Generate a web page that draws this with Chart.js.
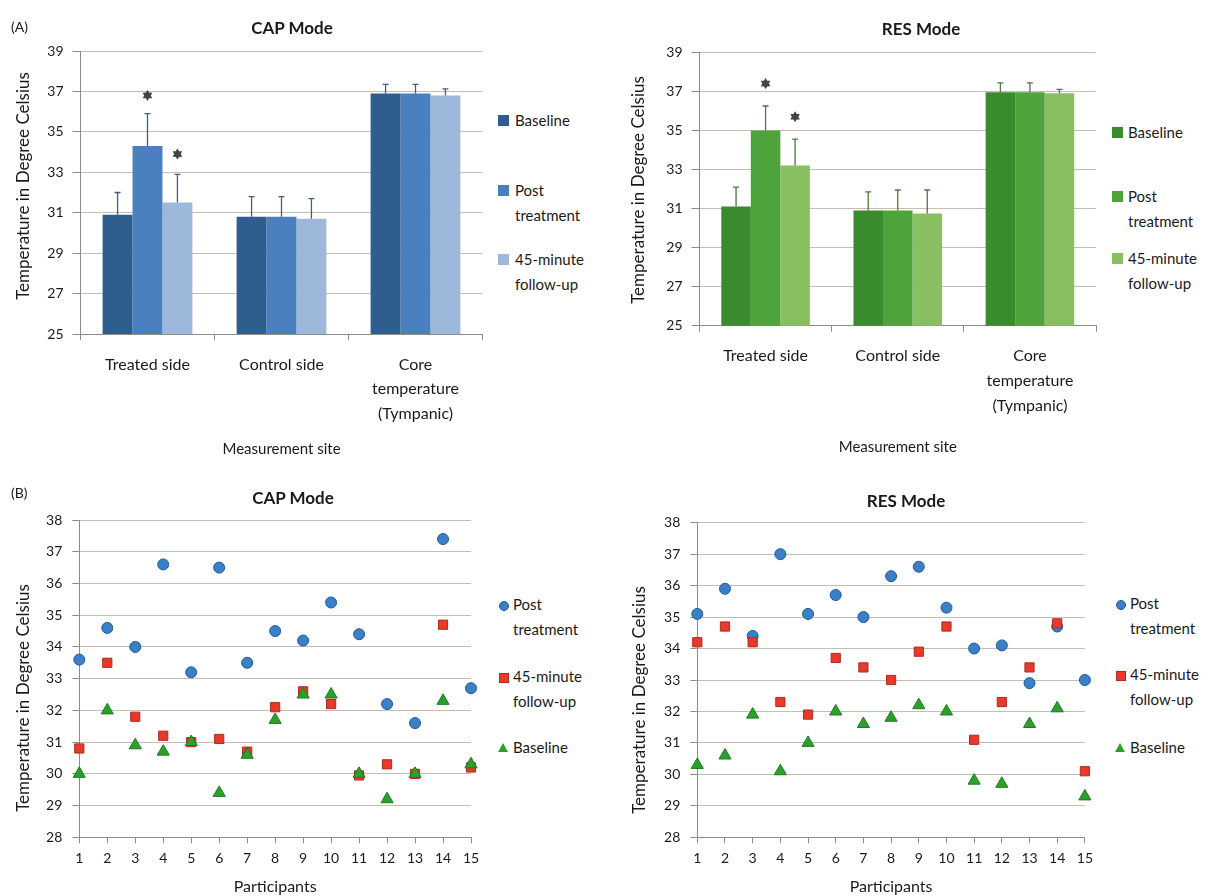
<!DOCTYPE html>
<html>
<head>
<meta charset="utf-8">
<script src="https://cdn.jsdelivr.net/npm/chart.js@4.4.1/dist/chart.umd.min.js"></script>
<style>
  html, body { margin: 0; padding: 0; background: #fff; }
  #wrap { position: relative; width: 1219px; height: 896px; background: #fff; font-family: Lato, "Open Sans", sans-serif; color: #1a1a1a; overflow: hidden; }
  canvas { position: absolute; }
  .t { position: absolute; white-space: nowrap; line-height: 1; }
  .title { font-weight: bold; font-size: 17px; transform: translate(-50%, -50%); }
  .tag { font-size: 14px; transform: translateY(-50%); }
  .yt { position: absolute; white-space: nowrap; line-height: 1; font-size: 17px; transform: translate(-50%, -50%) rotate(-90deg); }
  .lg { position: absolute; font-size: 15px; line-height: 25px; white-space: nowrap; color: #1a1a1a; }
  .sw { position: absolute; width: 11px; height: 11px; }
  .mk { position: absolute; }
</style>
</head>
<body>
<div id="wrap">
  <canvas id="capBar" width="490" height="470" style="left:0;top:0"></canvas>
  <canvas id="resBar" width="490" height="470" style="left:610px;top:0"></canvas>
  <canvas id="capSc" width="490" height="426" style="left:0;top:470px"></canvas>
  <canvas id="resSc" width="490" height="426" style="left:610px;top:470px"></canvas>

  <div class="t tag" style="left:11px;top:27px">(A)</div>
  <div class="t title" style="left:292px;top:27px">CAP Mode</div>
  <div class="t title" style="left:921px;top:28px">RES Mode</div>
  <div class="t tag" style="left:11px;top:493px">(B)</div>
  <div class="t title" style="left:293px;top:497px">CAP Mode</div>
  <div class="t title" style="left:906px;top:500px">RES Mode</div>

  <div class="yt" style="left:22px;top:186px">Temperature in Degree Celsius</div>
  <div class="yt" style="left:637px;top:190px">Temperature in Degree Celsius</div>
  <div class="yt" style="left:22px;top:698px">Temperature in Degree Celsius</div>
  <div class="yt" style="left:638px;top:700px">Temperature in Degree Celsius</div>

  <!-- legends A -->
  <div class="sw" style="left:498px;top:115px;background:#2f5d8e"></div>
  <div class="lg" style="left:515px;top:108px">Baseline</div>
  <div class="sw" style="left:498px;top:185px;background:#4a80bf"></div>
  <div class="lg" style="left:515px;top:178px">Post<br>treatment</div>
  <div class="sw" style="left:498px;top:254px;background:#9db8da"></div>
  <div class="lg" style="left:515px;top:247px">45-minute<br>follow-up</div>

  <div class="sw" style="left:1112px;top:127px;background:#3a8a2e"></div>
  <div class="lg" style="left:1128px;top:120px">Baseline</div>
  <div class="sw" style="left:1112px;top:191px;background:#4ea43a"></div>
  <div class="lg" style="left:1128px;top:184px">Post<br>treatment</div>
  <div class="sw" style="left:1112px;top:253px;background:#88c061"></div>
  <div class="lg" style="left:1128px;top:246px">45-minute<br>follow-up</div>

  <!-- legends B -->
  <div class="mk" style="left:499px;top:601px;width:8px;height:8px;border-radius:50%;background:#3a7fc8;border:1px solid #1f5a9a"></div>
  <div class="lg" style="left:513px;top:592px">Post<br>treatment</div>
  <div class="mk" style="left:499px;top:673px;width:8px;height:8px;background:#e8392a;border:1px solid #b02a1e"></div>
  <div class="lg" style="left:513px;top:664px">45-minute<br>follow-up</div>
  <div class="mk" style="left:498px;top:743px;width:0;height:0;border-left:5px solid transparent;border-right:5px solid transparent;border-bottom:9px solid #2ca02c"></div>
  <div class="lg" style="left:513px;top:735px">Baseline</div>

  <div class="mk" style="left:1116px;top:600px;width:8px;height:8px;border-radius:50%;background:#3a7fc8;border:1px solid #1f5a9a"></div>
  <div class="lg" style="left:1130px;top:591px">Post<br>treatment</div>
  <div class="mk" style="left:1116px;top:671px;width:8px;height:8px;background:#e8392a;border:1px solid #b02a1e"></div>
  <div class="lg" style="left:1130px;top:662px">45-minute<br>follow-up</div>
  <div class="mk" style="left:1115px;top:743px;width:0;height:0;border-left:5px solid transparent;border-right:5px solid transparent;border-bottom:9px solid #2ca02c"></div>
  <div class="lg" style="left:1130px;top:735px">Baseline</div>
</div>

<script>
// ---------- data: panel A (bar charts) ----------
const siteCategories = ['Treated side', 'Control side', ['Core', 'temperature', '(Tympanic)']];
const barTicks = [25, 27, 29, 31, 33, 35, 37, 39];

const capBaseline = [30.9, 30.8, 36.9];
const capPost = [34.3, 30.8, 36.9];
const capFollow = [31.5, 30.7, 36.8];
const capBaselineErr = [1.1, 1.0, 0.45];
const capPostErr = [1.6, 1.0, 0.45];
const capFollowErr = [1.4, 1.0, 0.33];
const capPostStar = [36.8, null, null];
const capFollowStar = [33.9, null, null];

const resBaseline = [31.1, 30.9, 36.95];
const resPost = [35.0, 30.9, 36.95];
const resFollow = [33.2, 30.75, 36.9];
const resBaselineErr = [1.0, 0.95, 0.48];
const resPostErr = [1.25, 1.05, 0.48];
const resFollowErr = [1.35, 1.2, 0.2];
const resPostStar = [37.4, null, null];
const resFollowStar = [35.7, null, null];

// ---------- data: panel B (scatter) ----------
const participants = [1, 2, 3, 4, 5, 6, 7, 8, 9, 10, 11, 12, 13, 14, 15];
const scatterTicks = [28, 29, 30, 31, 32, 33, 34, 35, 36, 37, 38];

const capScPost = [33.6, 34.6, 34.0, 36.6, 33.2, 36.5, 33.5, 34.5, 34.2, 35.4, 34.4, 32.2, 31.6, 37.4, 32.7];
const capScFollow = [30.8, 33.5, 31.8, 31.2, 31.0, 31.1, 30.7, 32.1, 32.6, 32.2, 29.95, 30.3, 30.0, 34.7, 30.2];
const capScBaseline = [30.0, 32.0, 30.9, 30.7, 31.0, 29.4, 30.6, 31.7, 32.5, 32.5, 30.0, 29.2, 30.0, 32.3, 30.3];

const resScPost = [35.1, 35.9, 34.4, 37.0, 35.1, 35.7, 35.0, 36.3, 36.6, 35.3, 34.0, 34.1, 32.9, 34.7, 33.0];
const resScFollow = [34.2, 34.7, 34.2, 32.3, 31.9, 33.7, 33.4, 33.0, 33.9, 34.7, 31.1, 32.3, 33.4, 34.8, 30.1];
const resScBaseline = [30.3, 30.6, 31.9, 30.1, 31.0, 32.0, 31.6, 31.8, 32.2, 32.0, 29.8, 29.7, 31.6, 32.1, 29.3];

// ---------- helpers ----------
const FONT = 'Lato, "Open Sans", sans-serif';
const GRID = '#c6beb5';
const AXIS = '#8c8c8c';
const TXT = '#1a1a1a';

function drawStar(ctx, x, y, r) {
  ctx.beginPath();
  for (let i = 0; i < 12; i++) {
    const a = -Math.PI / 2 + i * Math.PI / 6;
    const rr = i % 2 === 0 ? r : r * 0.6;
    const px = x + rr * Math.cos(a), py = y + rr * Math.sin(a);
    if (i === 0) ctx.moveTo(px, py); else ctx.lineTo(px, py);
  }
  ctx.closePath();
  ctx.fill();
}

const errorBarPlugin = {
  id: 'errorBars',
  afterDatasetsDraw(chart) {
    const ctx = chart.ctx, ys = chart.scales.y;
    ctx.save();
    chart.data.datasets.forEach((ds, i) => {
      const meta = chart.getDatasetMeta(i);
      meta.data.forEach((bar, j) => {
        if (ds.errors && ds.errors[j] != null) {
          const top = ys.getPixelForValue(ds.data[j] + ds.errors[j]);
          ctx.strokeStyle = ds.errColor;
          ctx.lineWidth = 1.3;
          ctx.beginPath();
          ctx.moveTo(bar.x, bar.y);
          ctx.lineTo(bar.x, top);
          ctx.moveTo(bar.x - 3, top);
          ctx.lineTo(bar.x + 3, top);
          ctx.stroke();
        }
        if (ds.stars && ds.stars[j] != null) {
          ctx.fillStyle = '#444';
          drawStar(ctx, bar.x, ys.getPixelForValue(ds.stars[j]), 5.5);
        }
      });
    });
    ctx.restore();
  }
};

function barChart(id, series, colors, errColor, geom) {
  const labels = ['Baseline', 'Post treatment', '45-minute follow-up'];
  return new Chart(document.getElementById(id), {
    type: 'bar',
    data: {
      labels: siteCategories,
      datasets: series.map((s, k) => ({
        label: labels[k],
        data: s.values,
        errors: s.errors,
        stars: s.stars,
        errColor: errColor,
        backgroundColor: colors[k],
        borderWidth: 0,
        barPercentage: 1.0,
        categoryPercentage: 0.67
      }))
    },
    options: {
      responsive: false,
      animation: false,
      layout: { padding: { left: 0, top: geom.top, right: geom.right, bottom: 0 } },
      plugins: { legend: { display: false }, tooltip: { enabled: false } },
      scales: {
        x: {
          afterFit(s) { s.height = geom.xh; },
          grid: { offset: true, drawOnChartArea: false, drawTicks: true, tickLength: 6, color: AXIS },
          border: { color: AXIS, width: 1 },
          ticks: { color: TXT, font: { family: FONT, size: 16, lineHeight: 1.55 }, padding: geom.xpad, maxRotation: 0, autoSkip: false },
          title: { display: true, text: 'Measurement site', color: TXT, font: { family: FONT, size: 15 }, padding: { top: 0, bottom: geom.xtb } }
        },
        y: {
          min: 25, max: 39,
          afterFit(s) { s.width = geom.yw; },
          afterBuildTicks(s) { s.ticks = barTicks.map(v => ({ value: v })); },
          grid: { color: GRID, tickLength: 8, tickColor: AXIS },
          border: { color: AXIS, width: 1 },
          ticks: { color: TXT, font: { family: FONT, size: 14 }, padding: 9 },
          title: { display: false }
        }
      }
    },
    plugins: [errorBarPlugin]
  });
}

barChart('capBar', [
  { values: capBaseline, errors: capBaselineErr, stars: null },
  { values: capPost, errors: capPostErr, stars: capPostStar },
  { values: capFollow, errors: capFollowErr, stars: capFollowStar }
], ['#2f5d8e', '#4a80bf', '#9db8da'], '#3f5f86',
  { top: 51, right: 7.5, xh: 136, yw: 80.5, xpad: 12, xtb: 12 });

barChart('resBar', [
  { values: resBaseline, errors: resBaselineErr, stars: null },
  { values: resPost, errors: resPostErr, stars: resPostStar },
  { values: resFollow, errors: resFollowErr, stars: resFollowStar }
], ['#3a8a2e', '#4ea43a', '#88c061'], '#4b7a3e',
  { top: 52.3, right: 4, xh: 144.3, yw: 89.5, xpad: 12, xtb: 14 });

function scatterChart(id, post, follow, base, geom) {
  const pts = arr => participants.map((p, i) => ({ x: p, y: arr[i] }));
  return new Chart(document.getElementById(id), {
    type: 'scatter',
    data: {
      datasets: [
        { label: 'Post treatment', data: pts(post), pointStyle: 'circle', pointRadius: 5.5, backgroundColor: '#3a7fc8', borderColor: '#1f5a9a', borderWidth: 1, order: 3, clip: false },
        { label: '45-minute follow-up', data: pts(follow), pointStyle: 'rect', pointRadius: 6.5, backgroundColor: '#e8392a', borderColor: '#b02a1e', borderWidth: 1, order: 2, clip: false },
        { label: 'Baseline', data: pts(base), pointStyle: 'triangle', pointRadius: 7, backgroundColor: '#2ca02c', borderColor: '#1e7a1e', borderWidth: 1, order: 1, clip: false }
      ]
    },
    options: {
      responsive: false,
      animation: false,
      layout: { padding: { left: 0, top: geom.top, right: geom.right, bottom: 0 } },
      plugins: { legend: { display: false }, tooltip: { enabled: false } },
      scales: {
        x: {
          type: 'linear', min: 1, max: 15,
          afterFit(s) { s.height = geom.xh; },
          afterBuildTicks(s) { s.ticks = participants.map(v => ({ value: v })); },
          grid: { drawOnChartArea: false, drawTicks: true, tickLength: 6, color: AXIS },
          border: { color: AXIS, width: 1 },
          ticks: { color: TXT, font: { family: FONT, size: 14 }, padding: 7, maxRotation: 0, autoSkip: false },
          title: { display: true, text: 'Participants', color: TXT, font: { family: FONT, size: 16 }, padding: { top: 0, bottom: 0 } }
        },
        y: {
          min: 28, max: 38,
          afterFit(s) { s.width = geom.yw; },
          afterBuildTicks(s) { s.ticks = scatterTicks.map(v => ({ value: v })); },
          grid: { color: GRID, tickLength: 7, tickColor: AXIS },
          border: { color: AXIS, width: 1 },
          ticks: { color: TXT, font: { family: FONT, size: 14 }, padding: 10 },
          title: { display: false }
        }
      }
    }
  });
}

scatterChart('capSc', capScPost, capScFollow, capScBaseline,
  { top: 50, right: 19, xh: 58.7, yw: 79.3 });
scatterChart('resSc', resScPost, resScFollow, resScBaseline,
  { top: 52.7, right: 13.3, xh: 58.7, yw: 87.3 });
</script>
</body>
</html>
